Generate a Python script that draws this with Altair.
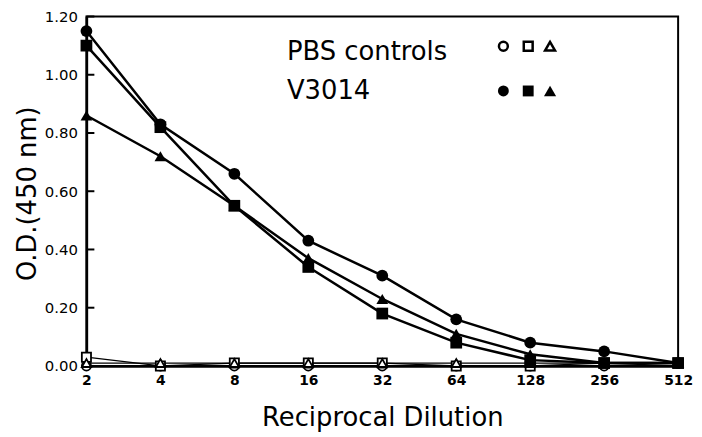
import altair as alt
import pandas as pd

# ---- data ----
dilutions = [2, 4, 8, 16, 32, 64, 128, 256, 512]
y_ticks = [0.0, 0.2, 0.4, 0.6, 0.8, 1.0, 1.2]

v3014_circle = [1.15, 0.83, 0.66, 0.43, 0.31, 0.16, 0.08, 0.05, 0.01]
v3014_square = [1.10, 0.82, 0.55, 0.34, 0.18, 0.08, 0.02, 0.01, 0.01]
v3014_triangle = [0.86, 0.72, 0.55, 0.37, 0.23, 0.11, 0.04, 0.01, 0.01]

pbs_circle = [0.00, 0.00, 0.00, 0.00, 0.00, 0.00, 0.00, 0.00, 0.01]
pbs_square = [0.03, 0.00, 0.01, 0.01, 0.01, 0.00, 0.00, 0.01, 0.01]
pbs_triangle = [0.01, 0.01, 0.01, 0.01, 0.01, 0.01, 0.01, 0.01, 0.01]

legend_labels = ["PBS controls", "V3014"]
shapes = ["circle", "square", "triangle-up"]

W, H = 596, 352
FONT = "DejaVu Sans"


def series(vals, name, shape):
    return pd.DataFrame({"dilution": dilutions, "od": vals, "series": name, "shape": shape})


v_df = pd.concat([
    series(v3014_circle, "V circle", "circle"),
    series(v3014_square, "V square", "square"),
    series(v3014_triangle, "V triangle", "triangle-up"),
])
p_df = pd.concat([
    series(pbs_circle, "P circle", "circle"),
    series(pbs_square, "P square", "square"),
    series(pbs_triangle, "P triangle", "triangle-up"),
])

x_enc = alt.X(
    "dilution:Q",
    scale=alt.Scale(type="log", base=2, domain=[2, 512], nice=False),
    axis=alt.Axis(
        values=dilutions, format="d", title="Reciprocal Dilution",
        ticks=False, grid=False, domainColor="black", domainWidth=2.5,
        labelFont=FONT, labelFontSize=14, labelFontWeight="bold", labelColor="black",
        labelPadding=8, labelFlush=False,
        titleFont=FONT, titleFontSize=26, titleFontWeight="normal", titleColor="black",
        titleX=W / 2, titleY=60, titleAlign="center", titleBaseline="alphabetic",
    ),
)
y_enc = alt.Y(
    "od:Q",
    scale=alt.Scale(domain=[0, 1.2], nice=False),
    axis=alt.Axis(
        values=y_ticks, format=".2f", title="O.D.(450 nm)",
        ticks=False, grid=False, domainColor="black", domainWidth=2.5,
        labelFont=FONT, labelFontSize=15, labelColor="black",
        labelPadding=9, labelFlush=False,
        titleFont=FONT, titleFontSize=26, titleFontWeight="normal", titleColor="black",
        titleAngle=-90, titleX=-51, titleY=178, titleAlign="center", titleBaseline="alphabetic",
    ),
)

shape_scale = alt.Scale(domain=shapes, range=shapes)

pbs_lines = alt.Chart(p_df).mark_line(color="black", strokeWidth=1.3).encode(
    x=x_enc, y=y_enc, detail="series:N"
)
pbs_points = alt.Chart(p_df).mark_point(
    filled=False, fill="white", fillOpacity=1, stroke="black", strokeWidth=1.8, size=85, opacity=1
).encode(x=x_enc, y=y_enc, shape=alt.Shape("shape:N", scale=shape_scale, legend=None))

v_lines = alt.Chart(v_df).mark_line(color="black", strokeWidth=2.5).encode(
    x=x_enc, y=y_enc, detail="series:N"
)
v_points = alt.Chart(v_df).mark_point(
    filled=True, color="black", size=140, opacity=1
).encode(x=x_enc, y=y_enc, shape=alt.Shape("shape:N", scale=shape_scale, legend=None))

# inward tick marks
y_tick_df = pd.DataFrame({"od": y_ticks})
y_tick_rules = alt.Chart(y_tick_df).mark_rule(color="black", strokeWidth=2).encode(
    y=y_enc, x=alt.value(0), x2=alt.value(8)
)
x_tick_df = pd.DataFrame({"dilution": dilutions})
x_tick_rules = alt.Chart(x_tick_df).mark_rule(color="black", strokeWidth=2).encode(
    x=x_enc, y=alt.value(H), y2=alt.value(H - 7)
)

# in-plot legend
legend_layers = []
text_y = [44, 83]
for lab, ty in zip(legend_labels, text_y):
    legend_layers.append(
        alt.Chart(pd.DataFrame({"label": [lab]})).mark_text(
            font=FONT, fontSize=26, color="black", align="left", baseline="alphabetic"
        ).encode(text="label:N", x=alt.value(202), y=alt.value(ty))
    )
sym_x = [420, 445, 467]
sym_y = [30, 75]
for row, (sy, filled) in enumerate(zip(sym_y, [False, True])):
    for shp, sx in zip(shapes, sym_x):
        if filled:
            mk = alt.Chart(pd.DataFrame({"shape": [shp]})).mark_point(
                shape=shp, filled=True, color="black",
                size=150 if shp == "triangle-up" else 120, opacity=1
            )
        else:
            mk = alt.Chart(pd.DataFrame({"shape": [shp]})).mark_point(
                shape=shp, filled=False, fill="white", fillOpacity=1, stroke="black",
                strokeWidth=2.5, size=80 if shp != "triangle-up" else 100, opacity=1
            )
        legend_layers.append(mk.encode(x=alt.value(sx), y=alt.value(sy)))

chart = alt.layer(
    pbs_lines, v_lines, y_tick_rules, x_tick_rules, pbs_points, v_points, *legend_layers
).properties(
    width=W, height=H,
    autosize=alt.AutoSizeParams(type="none"),
    padding={"left": 79, "top": 7, "right": 16, "bottom": 70},
    background="white",
).configure_view(stroke="black", strokeWidth=2)

chart.save("out.html", embed_options={"renderer": "svg", "actions": False})
